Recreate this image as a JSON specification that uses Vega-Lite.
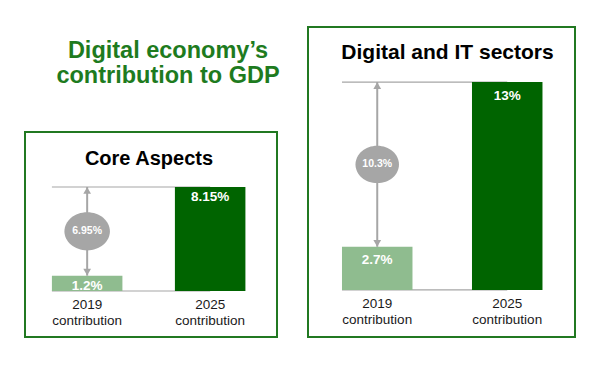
{
  "$schema": "https://vega.github.io/schema/vega-lite/v6.json",
  "autosize": {"type": "pad"},
  "padding": {"left": 24, "top": 26, "right": 35, "bottom": 31},
  "background": "white",
  "config": {
    "view": {"stroke": "#217821", "strokeWidth": 2},
    "font": "Liberation Sans",
    "text": {"font": "Liberation Sans"}
  },
  "datasets": {
    "core": [
      {"year": "2019 contribution", "value": 1.2, "label": "1.2%"},
      {"year": "2025 contribution", "value": 8.15, "label": "8.15%"}
    ],
    "coreDiff": [
      {"year": "2019 contribution", "from": 1.2, "to": 8.15, "diff": "6.95%", "panel": "Core Aspects"}
    ],
    "it": [
      {"year": "2019 contribution", "value": 2.7, "label": "2.7%"},
      {"year": "2025 contribution", "value": 13, "label": "13%"}
    ],
    "itDiff": [
      {"year": "2019 contribution", "from": 2.7, "to": 13, "diff": "10.3%", "panel": "Digital and IT sectors"}
    ]
  },
  "spacing": 27,
  "hconcat": [
    {
      "spacing": 31,
      "vconcat": [
        {
          "width": 252,
          "height": 73,
          "view": {"stroke": null},
          "data": {"values": [{"t": "title"}]},
          "mark": {
            "type": "text",
            "text": ["Digital economy’s", "contribution to GDP"],
            "fontSize": 23.5,
            "fontWeight": "bold",
            "color": "#1e7b1e",
            "lineHeight": 25,
            "baseline": "middle",
            "align": "center",
            "dx": 17,
            "dy": -12.5
          },
          "encoding": {}
        },
        {
          "width": 252,
          "height": 205,
          "layer": [
            {
              "data": {"name": "coreDiff"},
              "mark": {"type": "rule", "color": "#a6a6a6", "strokeWidth": 1.2},
              "encoding": {
                "x": {"field": "year", "type": "nominal", "bandPosition": 0, "axis": null,
                      "scale": {"domain": ["2019 contribution", "2025 contribution"], "paddingInner": 0.4268, "paddingOuter": 0.2378, "align": 0.46}},
                "x2": {"datum": "2025 contribution"},
                "y": {"field": "to", "type": "quantitative", "axis": null, "scale": {"domain": [-3.605, 12.46], "nice": false, "zero": false}}
              }
            },
            {
              "data": {"name": "coreDiff"},
              "mark": {"type": "rule", "color": "#a6a6a6", "strokeWidth": 1.2},
              "encoding": {
                "x": {"field": "year", "type": "nominal", "bandPosition": 0, "axis": null},
                "x2": {"datum": "2025 contribution"},
                "y": {"datum": 0, "type": "quantitative", "axis": null}
              }
            },
            {
              "data": {"name": "core"},
              "mark": {"type": "bar"},
              "encoding": {
                "x": {"field": "year", "type": "nominal", "axis": null},
                "y": {"field": "value", "type": "quantitative", "axis": null},
                "color": {"field": "year", "type": "nominal", "legend": null,
                          "scale": {"domain": ["2019 contribution", "2025 contribution"], "range": ["#8fbc8f", "#006400"]}}
              }
            },
            {
              "data": {"name": "coreDiff"},
              "mark": {"type": "rule", "color": "#a6a6a6", "strokeWidth": 2},
              "encoding": {
                "x": {"field": "year", "type": "nominal", "axis": null},
                "y": {"field": "to", "type": "quantitative", "axis": null},
                "y2": {"field": "from"}
              }
            },
            {
              "data": {"name": "coreDiff"},
              "mark": {"type": "point", "shape": "triangle-up", "filled": true, "opacity": 1, "size": 60, "color": "#a6a6a6", "yOffset": 3.5},
              "encoding": {
                "x": {"field": "year", "type": "nominal", "axis": null},
                "y": {"field": "to", "type": "quantitative", "axis": null}
              }
            },
            {
              "data": {"name": "coreDiff"},
              "mark": {"type": "point", "shape": "triangle-down", "filled": true, "opacity": 1, "size": 60, "color": "#a6a6a6", "yOffset": -3.5},
              "encoding": {
                "x": {"field": "year", "type": "nominal", "axis": null},
                "y": {"field": "from", "type": "quantitative", "axis": null}
              }
            },
            {
              "data": {"name": "coreDiff"},
              "transform": [{"calculate": "(datum.from + datum.to) / 2", "as": "mid"}],
              "mark": {"type": "point", "shape": "M-1,0A1,0.84,0,1,1,1,0A1,0.84,0,1,1,-1,0Z", "filled": true, "opacity": 1, "size": 2070, "color": "#a6a6a6"},
              "encoding": {
                "x": {"field": "year", "type": "nominal", "axis": null},
                "y": {"field": "mid", "type": "quantitative", "axis": null}
              }
            },
            {
              "data": {"name": "coreDiff"},
              "transform": [{"calculate": "(datum.from + datum.to) / 2", "as": "mid"}],
              "mark": {"type": "text", "color": "white", "fontWeight": "bold", "fontSize": 10.5, "baseline": "middle"},
              "encoding": {
                "x": {"field": "year", "type": "nominal", "axis": null},
                "y": {"field": "mid", "type": "quantitative", "axis": null},
                "text": {"field": "diff"}
              }
            },
            {
              "data": {"name": "core"},
              "mark": {"type": "text", "color": "white", "fontWeight": "bold", "fontSize": 13.5, "baseline": "middle", "dy": 10.5},
              "encoding": {
                "x": {"field": "year", "type": "nominal", "axis": null},
                "y": {"field": "value", "type": "quantitative", "axis": null},
                "text": {"field": "label"}
              }
            },
            {
              "data": {"name": "core"},
              "mark": {"type": "text", "color": "#1a1a1a", "fontSize": 13.5, "baseline": "top", "dy": 7, "lineBreak": " ", "lineHeight": 16},
              "encoding": {
                "x": {"field": "year", "type": "nominal", "axis": null},
                "y": {"datum": 0, "type": "quantitative", "axis": null},
                "text": {"field": "year"}
              }
            },
            {
              "data": {"name": "coreDiff"},
              "mark": {"type": "text", "color": "#000000", "fontWeight": "bold", "fontSize": 20, "baseline": "middle", "dx": -2},
              "encoding": {
                "y": {"datum": 10.34, "type": "quantitative", "axis": null},
                "text": {"field": "panel"}
              }
            }
          ]
        }
      ]
    },
    {
      "width": 267,
      "height": 310,
      "layer": [
        {
          "data": {"name": "itDiff"},
          "mark": {"type": "rule", "color": "#a6a6a6", "strokeWidth": 1.2},
          "encoding": {
            "x": {"field": "year", "type": "nominal", "bandPosition": 0, "axis": null,
                  "scale": {"domain": ["2019 contribution", "2025 contribution"], "paddingInner": 0.4577, "paddingOuter": 0.2558, "align": 0.511}},
            "x2": {"datum": "2025 contribution"},
            "y": {"field": "to", "type": "quantitative", "axis": null, "scale": {"domain": [-2.94, 16.44], "nice": false, "zero": false}}
          }
        },
        {
          "data": {"name": "itDiff"},
          "mark": {"type": "rule", "color": "#a6a6a6", "strokeWidth": 1.2},
          "encoding": {
            "x": {"field": "year", "type": "nominal", "bandPosition": 0, "axis": null},
            "x2": {"datum": "2025 contribution"},
            "y": {"datum": 0, "type": "quantitative", "axis": null}
          }
        },
        {
          "data": {"name": "it"},
          "mark": {"type": "bar"},
          "encoding": {
            "x": {"field": "year", "type": "nominal", "axis": null},
            "y": {"field": "value", "type": "quantitative", "axis": null},
            "color": {"field": "year", "type": "nominal", "legend": null,
                      "scale": {"domain": ["2019 contribution", "2025 contribution"], "range": ["#8fbc8f", "#006400"]}}
          }
        },
        {
          "data": {"name": "itDiff"},
          "mark": {"type": "rule", "color": "#a6a6a6", "strokeWidth": 2},
          "encoding": {
            "x": {"field": "year", "type": "nominal", "axis": null},
            "y": {"field": "to", "type": "quantitative", "axis": null},
            "y2": {"field": "from"}
          }
        },
        {
          "data": {"name": "itDiff"},
          "mark": {"type": "point", "shape": "triangle-up", "filled": true, "opacity": 1, "size": 60, "color": "#a6a6a6", "yOffset": 3.5},
          "encoding": {
            "x": {"field": "year", "type": "nominal", "axis": null},
            "y": {"field": "to", "type": "quantitative", "axis": null}
          }
        },
        {
          "data": {"name": "itDiff"},
          "mark": {"type": "point", "shape": "triangle-down", "filled": true, "opacity": 1, "size": 60, "color": "#a6a6a6", "yOffset": -3.5},
          "encoding": {
            "x": {"field": "year", "type": "nominal", "axis": null},
            "y": {"field": "from", "type": "quantitative", "axis": null}
          }
        },
        {
          "data": {"name": "itDiff"},
          "transform": [{"calculate": "(datum.from + datum.to) / 2", "as": "mid"}],
          "mark": {"type": "point", "shape": "M-1,0A1,0.86,0,1,1,1,0A1,0.86,0,1,1,-1,0Z", "filled": true, "opacity": 1, "size": 1890, "color": "#a6a6a6"},
          "encoding": {
            "x": {"field": "year", "type": "nominal", "axis": null},
            "y": {"field": "mid", "type": "quantitative", "axis": null}
          }
        },
        {
          "data": {"name": "itDiff"},
          "transform": [{"calculate": "(datum.from + datum.to) / 2", "as": "mid"}],
          "mark": {"type": "text", "color": "white", "fontWeight": "bold", "fontSize": 10.5, "baseline": "middle"},
          "encoding": {
            "x": {"field": "year", "type": "nominal", "axis": null},
            "y": {"field": "mid", "type": "quantitative", "axis": null},
            "text": {"field": "diff"}
          }
        },
        {
          "data": {"name": "it"},
          "mark": {"type": "text", "color": "white", "fontWeight": "bold", "fontSize": 13.5, "baseline": "middle", "dy": 13.5},
          "encoding": {
            "x": {"field": "year", "type": "nominal", "axis": null},
            "y": {"field": "value", "type": "quantitative", "axis": null},
            "text": {"field": "label"}
          }
        },
        {
          "data": {"name": "it"},
          "mark": {"type": "text", "color": "#1a1a1a", "fontSize": 13.5, "baseline": "top", "dy": 7, "lineBreak": " ", "lineHeight": 16},
          "encoding": {
            "x": {"field": "year", "type": "nominal", "axis": null},
            "y": {"datum": 0, "type": "quantitative", "axis": null},
            "text": {"field": "year"}
          }
        },
        {
          "data": {"name": "itDiff"},
          "mark": {"type": "text", "color": "#000000", "fontWeight": "bold", "fontSize": 21, "baseline": "middle", "dx": 6},
          "encoding": {
            "y": {"datum": 14.8, "type": "quantitative", "axis": null},
            "text": {"field": "panel"}
          }
        }
      ]
    }
  ]
}
